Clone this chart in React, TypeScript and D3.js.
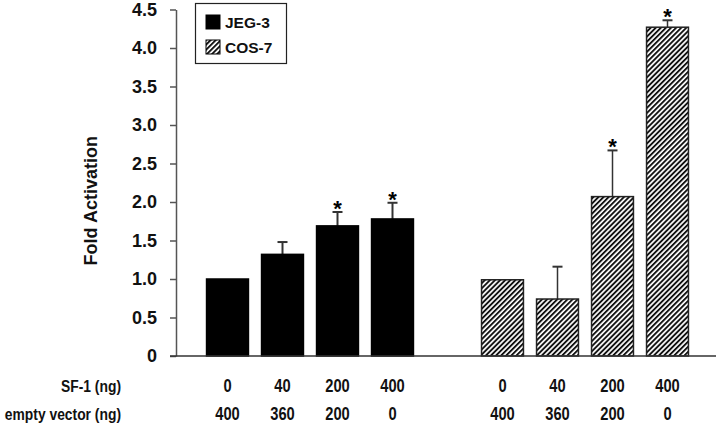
import React, { useEffect, useRef } from "react";
import * as d3 from "d3";

// SF-1 and empty vector amounts (labels under each bar)
const sf1Labels = ["0", "40", "200", "400"];
const emptyLabels = ["400", "360", "200", "0"];

// Fold activation
const jegValues = [1.0, 1.32, 1.69, 1.78];
const jegErrors = [0, 0.16, 0.18, 0.21];
const jegStars = [false, false, true, true];

const cosValues = [0.99, 0.74, 2.07, 4.27];
const cosErrors = [0, 0.42, 0.6, 0.09];
const cosStars = [false, false, true, true];

const yTicks = [0, 0.5, 1.0, 1.5, 2.0, 2.5, 3.0, 3.5, 4.0, 4.5];

const App = () => {
  const width = 720;
  const height = 439;
  const svgRef = useRef<SVGSVGElement>(null);

  useEffect(() => {
    document.body.style.margin = "0";
    if (!svgRef.current) return;
    const svg = d3.select(svgRef.current);
    svg.selectAll("*").remove();

    const font = "'Liberation Sans', Arial, sans-serif";

    // hatch pattern for COS-7
    const defs = svg.append("defs");
    const pat = defs
      .append("pattern")
      .attr("id", "hatch")
      .attr("patternUnits", "userSpaceOnUse")
      .attr("width", 3.6)
      .attr("height", 3.6)
      .attr("patternTransform", "rotate(45)");
    pat.append("rect").attr("width", 3.6).attr("height", 3.6).attr("fill", "white");
    pat.append("rect").attr("width", 1.9).attr("height", 3.6).attr("fill", "#111");

    const slots = ["j0", "j1", "j2", "j3", "gap", "c0", "c1", "c2", "c3"];
    const x = d3.scaleBand().domain(slots).range([200, 695]).paddingInner(0.22).paddingOuter(0.11);

    const y = d3.scaleLinear().domain([0, 4.5]).range([356, 9.5]);

    const bars = [
      ...jegValues.map((v, i) => ({ key: `j${i}`, v, e: jegErrors[i], star: jegStars[i], fill: "#000", stroke: "#000", ew: 2 })),
      ...cosValues.map((v, i) => ({ key: `c${i}`, v, e: cosErrors[i], star: cosStars[i], fill: "url(#hatch)", stroke: "#222", ew: 1.5 })),
    ];

    // error bars (drawn first, bar covers lower half)
    const eb = svg.append("g");
    bars
      .filter((d) => d.e > 0)
      .forEach((d) => {
        const cx = (x(d.key) as number) + x.bandwidth() / 2;
        eb.append("line")
          .attr("x1", cx).attr("x2", cx)
          .attr("y1", y(d.v)).attr("y2", y(d.v + d.e))
          .attr("stroke", "#333").attr("stroke-width", d.ew);
        eb.append("line")
          .attr("x1", cx - 5).attr("x2", cx + 5)
          .attr("y1", y(d.v + d.e)).attr("y2", y(d.v + d.e))
          .attr("stroke", "#333").attr("stroke-width", 2);
      });

    svg
      .append("g")
      .selectAll("rect")
      .data(bars)
      .join("rect")
      .attr("x", (d) => (x(d.key) as number) + 0.5)
      .attr("y", (d) => y(d.v))
      .attr("width", x.bandwidth() - 1)
      .attr("height", (d) => y(0) - y(d.v))
      .attr("fill", (d) => d.fill)
      .attr("stroke", (d) => d.stroke)
      .attr("stroke-width", 1.5);

    // significance stars
    svg
      .append("g")
      .selectAll("text")
      .data(bars.filter((d) => d.star))
      .join("text")
      .attr("x", (d) => (x(d.key) as number) + x.bandwidth() / 2)
      .attr("y", (d) => y(d.v + d.e) + 4)
      .attr("text-anchor", "middle")
      .attr("font-family", font)
      .attr("font-weight", "bold")
      .attr("font-size", 22)
      .text("*");

    // y axis
    svg
      .append("g")
      .attr("transform", `translate(176,0)`)
      .call(d3.axisLeft(y).tickValues(yTicks).tickSize(6).tickSizeOuter(0).tickPadding(13)
        .tickFormat((d) => (d === 0 ? "0" : d3.format(".1f")(d as number))))
      .call((g) => g.selectAll("path").attr("stroke", "#555").attr("stroke-width", 1.5))
      .call((g) => g.selectAll(".tick line").attr("stroke", "#555").attr("stroke-width", 1.5))
      .selectAll("text")
      .attr("font-family", font)
      .attr("font-weight", "bold")
      .attr("font-size", 18)
      .attr("fill", "#111");

    // baseline
    svg.append("line")
      .attr("x1", 170).attr("x2", 716)
      .attr("y1", y(0)).attr("y2", y(0))
      .attr("stroke", "#333").attr("stroke-width", 1.5);

    // y label
    svg.append("text")
      .attr("transform", `translate(97,${(y(0) + y(4.5)) / 2 + 18}) rotate(-90)`)
      .attr("text-anchor", "middle")
      .attr("font-family", font)
      .attr("font-weight", "bold")
      .attr("font-size", 18)
      .attr("fill", "#111")
      .text("Fold Activation");

    // legend
    const lg = svg.append("g");
    lg.append("rect").attr("x", 195.5).attr("y", 3.5).attr("width", 91).attr("height", 60)
      .attr("fill", "white").attr("stroke", "#222").attr("stroke-width", 1.2);
    [
      { label: "JEG-3", fill: "#000", y: 22 },
      { label: "COS-7", fill: "url(#hatch)", y: 47 },
    ].forEach((d) => {
      lg.append("rect").attr("x", 206).attr("y", d.y - 7).attr("width", 14).attr("height", 14)
        .attr("fill", d.fill).attr("stroke", "#000").attr("stroke-width", 1);
      lg.append("text").attr("x", 225).attr("y", d.y + 6)
        .attr("font-family", font).attr("font-weight", "bold").attr("font-size", 15.5)
        .attr("fill", "#111").text(d.label);
    });

    // bottom label rows (condensed bold)
    const rows = [
      { title: "SF-1 (ng)", labels: sf1Labels, y: 392 },
      { title: "empty vector (ng)", labels: emptyLabels, y: 420 },
    ];
    const sx = 0.84;
    rows.forEach((r) => {
      svg.append("text")
        .attr("transform", `translate(121,${r.y}) scale(${sx * 0.97},1)`)
        .attr("text-anchor", "end")
        .attr("font-family", font).attr("font-weight", "bold").attr("font-size", 17)
        .attr("fill", "#111").text(r.title);
      ["j", "c"].forEach((p) => {
        r.labels.forEach((l, i) => {
          const cx = (x(`${p}${i}`) as number) + x.bandwidth() / 2;
          svg.append("text")
            .attr("transform", `translate(${cx},${r.y}) scale(${sx},1)`)
            .attr("text-anchor", "middle")
            .attr("font-family", font).attr("font-weight", "bold").attr("font-size", 17.5)
            .attr("fill", "#111").text(l);
        });
      });
    });
  }, []);

  return (
    <div>
      <svg ref={svgRef} width={width} height={height} style={{ display: "block", background: "white" }}></svg>
    </div>
  );
};

export default App;
